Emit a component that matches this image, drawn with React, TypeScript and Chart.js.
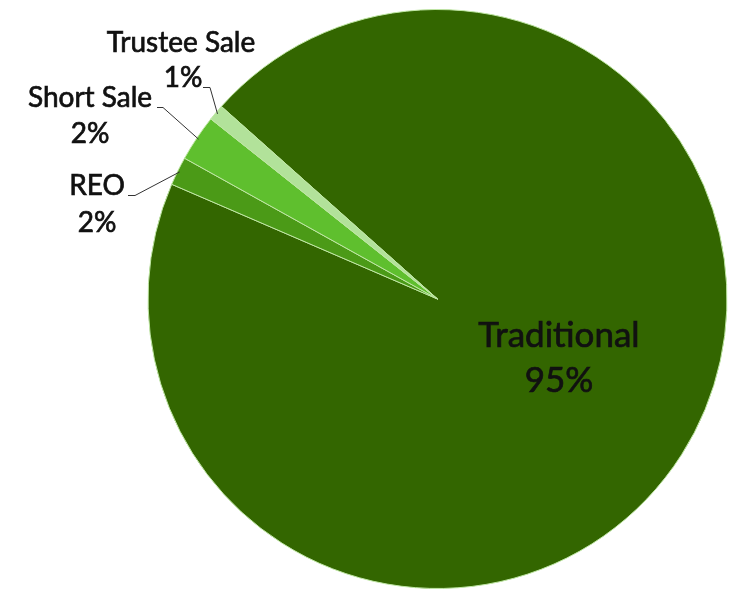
import React, { useEffect, useRef } from "react";
import { Chart, registerables } from "chart.js";

Chart.register(...registerables);

const categories = ["Traditional", "REO", "Short Sale", "Trustee Sale"];
const shares = [94.9, 1.6, 2.6, 0.9];
const shareLabels = ["95%", "2%", "2%", "1%"];
const sliceColors = ["#336600", "#4b9a17", "#5fbf2e", "#b2e29a"];

const FONT = "Lato, 'Open Sans', sans-serif";

// label layout (text anchor positions and leader line start/elbow)
const labelLayout = [
  { inside: true, cx: 559, nameY: 347, pctY: 392, size: 35 },
  { cx: 97, pctCx: 97, nameY: 195, pctY: 232, size: 28, lineStart: [128, 195], elbow: [135, 195] },
  { cx: 90, pctCx: 90, nameY: 107, pctY: 143, size: 28, lineStart: [157, 107], elbow: [163, 107] },
  { cx: 181, pctCx: 183, nameY: 52, pctY: 87, size: 28, lineStart: [203, 87], elbow: [210, 87] },
];

function boldText(ctx: any, text: string, x: number, y: number) {
  ctx.fillText(text, x, y);
  ctx.strokeText(text, x, y);
}

const labelPlugin = {
  id: "pieLabels",
  afterDraw(chart: any) {
    const ctx = chart.ctx;
    const meta = chart.getDatasetMeta(0);
    ctx.save();
    meta.data.forEach((arc: any, i: number) => {
      const p = arc.getProps(["x", "y", "startAngle", "endAngle", "outerRadius"], true);
      const lay: any = labelLayout[i];
      ctx.fillStyle = "#111";
      ctx.strokeStyle = "#111";
      ctx.lineWidth = 0.7;
      ctx.textAlign = "center";
      ctx.textBaseline = "alphabetic";
      ctx.font = `${lay.size}px ${FONT}`;
      if (lay.inside) {
        boldText(ctx, categories[i], lay.cx, lay.nameY);
        boldText(ctx, shareLabels[i], lay.cx, lay.pctY);
        return;
      }
      boldText(ctx, categories[i], lay.cx, lay.nameY);
      boldText(ctx, shareLabels[i], lay.pctCx, lay.pctY);
      const mid = (p.startAngle + p.endAngle) / 2;
      const r = p.outerRadius - 2;
      const ax = p.x + Math.cos(mid) * r;
      const ay = p.y + Math.sin(mid) * r;
      ctx.strokeStyle = "#333";
      ctx.lineWidth = 1;
      ctx.beginPath();
      ctx.moveTo(lay.lineStart[0], lay.lineStart[1] + 0.5);
      ctx.lineTo(lay.elbow[0], lay.elbow[1] + 0.5);
      ctx.lineTo(ax, ay);
      ctx.stroke();
    });
    ctx.restore();
  },
};

export default function App() {
  const ref = useRef<HTMLCanvasElement>(null);
  useEffect(() => {
    if (!ref.current) return;
    const chart = new Chart(ref.current, {
      type: "pie",
      data: {
        labels: categories,
        datasets: [
          {
            data: shares,
            backgroundColor: sliceColors,
            borderColor: "#bfe6a4",
            borderWidth: 1,
          },
        ],
      },
      options: {
        responsive: false,
        animation: false,
        rotation: -48.3,
        layout: { padding: { left: 146, right: 9, top: 9, bottom: 8 } },
        plugins: {
          legend: { display: false },
          tooltip: { enabled: false },
          title: { display: false },
        },
      },
      plugins: [labelPlugin],
    });
    return () => chart.destroy();
  }, []);
  return (
    <div style={{ position: "absolute", left: 0, top: 0, width: 738, height: 597, background: "#fff" }}>
      <canvas ref={ref} width={738} height={597} />
    </div>
  );
}
